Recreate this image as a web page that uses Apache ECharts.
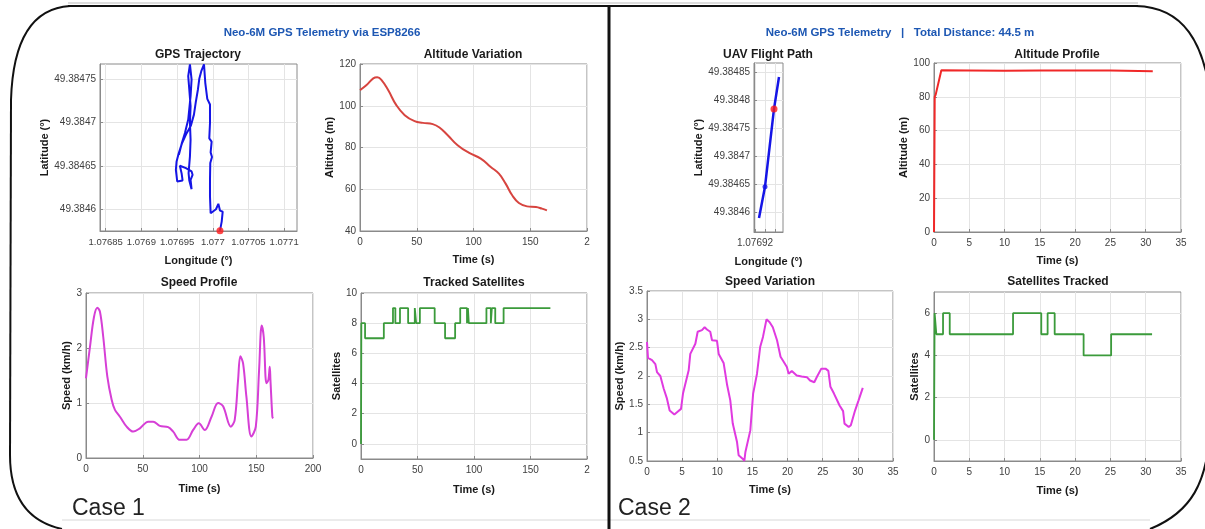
<!DOCTYPE html>
<html><head><meta charset="utf-8">
<script src="https://cdn.jsdelivr.net/npm/echarts@6/dist/echarts.min.js"></script>
<style>html,body{margin:0;padding:0;background:#fff}#c{width:1205px;height:529px}</style>
</head><body><div id="c"></div>
<script>
// ---------- Case 1 data ----------
const gpsLon1 = [1.0770101,1.0770125,1.0770139,1.0770101,1.0770078,1.0770045,1.076997,1.0769961,1.0769961,1.0769965,1.0769989,1.076997,1.0769984,1.0769951,1.0769961,1.0769961,1.0769923,1.0769895,1.0769877,1.0769839,1.0769811,1.0769792,1.0769764,1.0769736,1.0769694,1.0769624,1.0769567,1.0769521,1.0769493,1.0769483,1.0769502,1.0769577,1.0769563,1.0769539,1.0769624,1.0769703,1.0769717,1.0769689,1.0769703,1.0769671,1.0769661,1.076968,1.0769689,1.076968,1.0769689,1.0769671,1.0769656,1.076968,1.0769708,1.0769703,1.0769689,1.0769656,1.076961,1.0769567,1.0769525];
const gpsLat1 = [49.3845754,49.3845858,49.3845973,49.3845985,49.3846062,49.384600,49.3845954,49.3846146,49.3846338,49.3846531,49.38466,49.3846654,49.3846777,49.3846815,49.3846992,49.3847204,49.3847269,49.3847454,49.3847665,49.3847588,49.38475,49.3847377,49.3847242,49.3847088,49.3846962,49.3846858,49.3846754,49.3846638,49.384655,49.3846454,49.3846319,49.3846331,49.3846415,49.38465,49.3846473,49.3846435,49.3846396,49.3846338,49.3846231,49.3846331,49.3846415,49.3846608,49.38468,49.3846992,49.3847185,49.3847377,49.3847531,49.3847665,49.3847654,49.3847492,49.38473,49.3847031,49.3846877,49.3846762,49.3846627];
const gpsLonTicks1 = [1.07685,1.0769,1.07695,1.077,1.07705,1.0771];
const gpsLonLabels1 = ['1.07685','1.0769','1.07695','1.077','1.07705','1.0771'];
const gpsLatTicks1 = [49.3846,49.38465,49.3847,49.38475];
const gpsLatLabels1 = ['49.3846','49.38465','49.3847','49.38475'];

const altTime1 = [0,5.8,11.7,15.2,19,24.8,32,39.4,48.1,55.4,64.1,70,77.3,86,96.2,106.4,115.2,122.4,128.3,134.1,140,147.2,155.1,160.3,164.7];
const alt1 = [107.5,109.9,113.1,113.6,112.3,107.5,100.3,95.5,92.6,91.8,91.2,89.6,85.9,81.1,77.4,74.7,70.7,67.5,62.7,57.1,53.4,51.8,51.5,50.7,49.9];
const timeTicks1 = [0,50,100,150,200];
const timeLabelsCut1 = ['0','50','100','150','2'];
const timeLabels1 = ['0','50','100','150','200'];
const altTicks1 = [40,60,80,100,120];

const spdTime1 = [0,3.5,7,10,12.3,15.2,18.8,22.6,25.5,29.9,35.8,41.6,47.5,54.8,59.2,65,72.4,76.8,82.7,88.6,94.4,99.4,104.7,110.6,116.4,120.8,127.6,131,134,136,138.4,141.3,145.7,149.6,152.5,154.8,156.6,159,160.7,161.9,162.5,164.2,164.8];
const spd1 = [1.45,2.02,2.56,2.73,2.66,2.2,1.48,1.06,0.875,0.75,0.57,0.48,0.54,0.66,0.66,0.585,0.56,0.48,0.33,0.33,0.51,0.63,0.51,0.75,1.0,0.94,0.57,0.69,1.42,1.85,1.72,1.12,0.39,0.57,1.6,2.41,2.2,1.36,1.42,1.66,1.42,0.75,0.72];
const spdTicks1 = [0,1,2,3];

const satTime1 = [0,0.3,3.6,20.2,28.3,30.4,34.5,41.7,47.6,48.8,52.1,65.2,74.4,83.3,87.8,93.8,94.6,95.4,111,114.9,115.8,118.8,126.2,167.6];
const sat1 = [0,8,7,8,9,8,9,8,9,8,9,8,7,8,9,8,9,8,9,8,9,8,9,9];
const satTicks1 = [0,2,4,6,8,10];

// ---------- Case 2 data ----------
const uavLon2 = [1.0769204,1.076921,1.0769219,1.0769224];
const uavLat2 = [49.384589,49.384645,49.384784,49.384841];
const uavLonTicks2 = [1.07692,1.076921,1.076922];
const uavLonLabels2 = ['1.07692','',''];
const uavLatTicks2 = [49.3846,49.38465,49.3847,49.38475,49.3848,49.38485];
const uavLatLabels2 = ['49.3846','49.38465','49.3847','49.38475','49.3848','49.38485'];

const altTime2 = [0,0.1,0.24,1.04,5,10,15,20,25,31];
const alt2 = [0,80,81.3,95.7,95.6,95.4,95.5,95.6,95.5,95.1];
const timeTicks2 = [0,5,10,15,20,25,30,35];
const altTicks2 = [0,20,40,60,80,100];

const spdTime2 = [0,0.14,0.71,1.19,1.42,1.9,2.13,2.37,2.84,3.22,3.89,4.27,4.84,5.12,5.93,6.16,6.88,7.21,7.82,8.2,8.53,9.0,9.25,9.96,10.2,10.9,11.4,11.85,12.2,12.8,13.04,13.6,13.85,14.0,14.7,15.1,15.65,16.1,16.5,17.0,17.45,17.9,18.5,19.0,19.4,19.9,20.15,20.6,21.3,22.0,22.75,23.2,23.8,24.2,24.8,25.4,25.8,26.1,26.6,27.4,27.9,28.1,28.7,29.0,29.6,30.1,30.7];
const spd2 = [2.6,2.32,2.28,2.21,2.07,2.0,1.98,1.78,1.6,1.39,1.32,1.36,1.42,1.69,2.1,2.39,2.57,2.78,2.81,2.86,2.82,2.78,2.63,2.62,2.39,2.23,1.84,1.57,1.16,0.84,0.6,0.54,0.5,0.66,1.04,1.69,2.04,2.51,2.69,3.0,2.95,2.86,2.63,2.34,2.26,2.16,2.04,2.09,2.01,1.99,1.98,1.92,1.89,1.99,2.13,2.13,2.09,1.81,1.69,1.48,1.38,1.16,1.1,1.13,1.39,1.57,1.79];
const spdTicks2 = [0.5,1,1.5,2,2.5,3,3.5];

const satTime2 = [0,0.09,0.33,1.28,2.23,11.2,15.2,16.1,17.1,21.2,25.1,30.9];
const sat2 = [0,6,5,6,5,6,5,6,5,4,5,5];
const satTicks2 = [0,2,4,6];

// ---------- helpers ----------
const FONT = '"Liberation Sans", Arial, Helvetica, sans-serif';
const zip = (a, b) => a.map((v, i) => [v, b[i]]);
function lab(ticks, labels) {
  return function (v) {
    for (let i = 0; i < ticks.length; i++) {
      if (Math.abs(ticks[i] - v) < 1e-9) return labels ? labels[i] : String(ticks[i]);
    }
    return '';
  };
}
function axis(gi, min, max, ticks, labels, name, gap, isY, fs) {
  return {
    type: 'value', gridIndex: gi, min: min, max: max,
    name: name, nameLocation: 'middle', nameGap: gap,
    nameTextStyle: { fontWeight: 'bold', fontSize: 11, color: '#1a1a1a', fontFamily: FONT },
    axisLine: { show: true, onZero: false, lineStyle: { color: '#8a8a8a', width: 1 } },
    axisTick: { show: true, inside: true, length: 3, customValues: ticks, lineStyle: { color: '#8a8a8a' } },
    axisLabel: { show: true, customValues: ticks, formatter: lab(ticks, labels), color: '#404040', fontSize: fs || 10, fontFamily: FONT, margin: isY ? 4 : 6, hideOverlap: false },
    splitLine: { show: true, lineStyle: { color: '#e4e4e4', width: 1 } }
  };
}
function ttl(text, x, y, size, color, weight) {
  return { text: text, left: x, top: y, textAlign: 'center', padding: 0,
    textStyle: { fontSize: size, fontWeight: weight || 'bold', color: color || '#1a1a1a', fontFamily: FONT } };
}

const grids = [
  { left: 100, top: 64, width: 197, height: 167 },
  { left: 360, top: 64, width: 227, height: 167 },
  { left: 86, top: 293, width: 227, height: 165 },
  { left: 361, top: 293, width: 226, height: 166 },
  { left: 754, top: 63, width: 29, height: 169 },
  { left: 934, top: 63, width: 247, height: 169 },
  { left: 647, top: 291, width: 246, height: 170 },
  { left: 934, top: 292, width: 247, height: 169 }
].map(g => Object.assign({ show: true, borderColor: '#8a8a8a', borderWidth: 1, backgroundColor: '#fff' }, g));

const xAxes = [
  axis(0, 1.076842, 1.077118, gpsLonTicks1, gpsLonLabels1, 'Longitude (°)', 24, false, 9.5),
  axis(1, 0, 200, timeTicks1, timeLabelsCut1, 'Time (s)', 23, false),
  axis(2, 0, 200, timeTicks1, timeLabels1, 'Time (s)', 25, false),
  axis(3, 0, 200, timeTicks1, timeLabelsCut1, 'Time (s)', 25, false),
  axis(4, 1.0769199, 1.0769228, uavLonTicks2, uavLonLabels2, 'Longitude (°)', 24, false),
  axis(5, 0, 35, timeTicks2, null, 'Time (s)', 23, false),
  axis(6, 0, 35, timeTicks2, null, 'Time (s)', 23, false),
  axis(7, 0, 35, timeTicks2, null, 'Time (s)', 24, false)
];
const yAxes = [
  axis(0, 49.384575, 49.384767, gpsLatTicks1, gpsLatLabels1, 'Latitude (°)', 46, true),
  axis(1, 40, 120, altTicks1, null, 'Altitude (m)', 24, true),
  axis(2, 0, 3, spdTicks1, null, 'Speed (km/h)', 12, true),
  axis(3, -1, 10, satTicks1, null, 'Satellites', 18, true),
  axis(4, 49.384564, 49.384866, uavLatTicks2, uavLatLabels2, 'Latitude (°)', 44, true),
  axis(5, 0, 100, altTicks2, null, 'Altitude (m)', 21, true),
  axis(6, 0.5, 3.5, spdTicks2, null, 'Speed (km/h)', 21, true),
  axis(7, -1, 7, satTicks2, null, 'Satellites', 11, true)
];

function lineS(i, data, color, width, extra) {
  return Object.assign({ type: 'line', xAxisIndex: i, yAxisIndex: i, data: data, showSymbol: false, symbol: 'none',
    lineStyle: { color: color, width: width }, itemStyle: { color: color }, z: 3 }, extra || {});
}

const series = [
  lineS(0, zip(gpsLon1, gpsLat1), '#1515e6', 2),
  { type: 'scatter', xAxisIndex: 0, yAxisIndex: 0, data: [[gpsLon1[0], gpsLat1[0]]], symbolSize: 7, itemStyle: { color: '#ff1a1a' }, z: 5 },
  lineS(1, zip(altTime1, alt1), '#d7443f', 2, { smooth: 0.45 }),
  lineS(2, zip(spdTime1, spd1), '#d63fd6', 2, { smooth: 0.35 }),
  lineS(3, zip(satTime1, sat1), '#3b9b3b', 1.8, { step: 'end' }),
  lineS(4, zip(uavLon2, uavLat2), '#1515e6', 2.5),
  { type: 'scatter', xAxisIndex: 4, yAxisIndex: 4, data: [[uavLon2[2], uavLat2[2]]], symbolSize: 7, itemStyle: { color: '#ff1a1a' }, z: 5 },
  { type: 'scatter', xAxisIndex: 4, yAxisIndex: 4, data: [[uavLon2[1], uavLat2[1]]], symbolSize: 5, itemStyle: { color: '#1515e6' }, z: 5 },
  lineS(5, zip(altTime2, alt2), '#f02828', 2),
  lineS(6, zip(spdTime2, spd2), '#e03ae0', 2),
  lineS(7, zip(satTime2, sat2), '#3b9b3b', 1.8, { step: 'end' })
];

const titles = [
  ttl('Neo-6M GPS Telemetry via ESP8266', 322, 27, 11.5, '#1d57b3'),
  ttl('Neo-6M GPS Telemetry   |   Total Distance: 44.5 m', 900, 27, 11.5, '#1d57b3'),
  ttl('GPS Trajectory', 198, 49), ttl('Altitude Variation', 473, 49),
  ttl('Speed Profile', 199, 277), ttl('Tracked Satellites', 474, 277),
  ttl('UAV Flight Path', 768, 49), ttl('Altitude Profile', 1057, 49),
  ttl('Speed Variation', 770, 276), ttl('Satellites Tracked', 1058, 276),
  { text: 'Case 1', left: 72, top: 497, padding: 0, textStyle: { fontSize: 23, fontWeight: 'normal', color: '#222', fontFamily: FONT } },
  { text: 'Case 2', left: 618, top: 497, padding: 0, textStyle: { fontSize: 23, fontWeight: 'normal', color: '#222', fontFamily: FONT } }
];

const frame = { stroke: '#111', lineWidth: 2, fill: null };
const graphic = [
  { type: 'line', shape: { x1: 68, y1: 6, x2: 1138, y2: 6 }, style: frame, z: 100 },
  { type: 'line', shape: { x1: 68, y1: 3, x2: 1138, y2: 3 }, style: { stroke: '#bbb', lineWidth: 1 }, z: 100 },
  { type: 'bezierCurve', shape: { x1: 70, y1: 6, cpx1: 35, cpy1: 8, cpx2: 13, cpy2: 35, x2: 11, y2: 100 }, style: frame, z: 100 },
  { type: 'line', shape: { x1: 11, y1: 100, x2: 10, y2: 455 }, style: frame, z: 100 },
  { type: 'bezierCurve', shape: { x1: 10, y1: 455, cpx1: 10, cpy1: 500, cpx2: 30, cpy2: 522, x2: 62, y2: 529 }, style: frame, z: 100 },
  { type: 'line', shape: { x1: 609, y1: 6, x2: 609, y2: 529 }, style: { stroke: '#111', lineWidth: 3 }, z: 100 },
  { type: 'bezierCurve', shape: { x1: 1136, y1: 6, cpx1: 1182, cpy1: 7, cpx2: 1206, cpy2: 40, x2: 1212, y2: 110 }, style: frame, z: 100 },
  { type: 'bezierCurve', shape: { x1: 1210, y1: 430, cpx1: 1207, cpy1: 482, cpx2: 1192, cpy2: 512, x2: 1150, y2: 529 }, style: frame, z: 100 },
  { type: 'line', shape: { x1: 62, y1: 520, x2: 1150, y2: 520 }, style: { stroke: '#d8d8d8', lineWidth: 1 }, z: 1 }
];

const chart = echarts.init(document.getElementById('c'), null, { renderer: 'canvas' });
chart.setOption({
  backgroundColor: '#ffffff',
  animation: false,
  title: titles,
  grid: grids,
  xAxis: xAxes,
  yAxis: yAxes,
  series: series,
  graphic: graphic
});
</script>
</body></html>
